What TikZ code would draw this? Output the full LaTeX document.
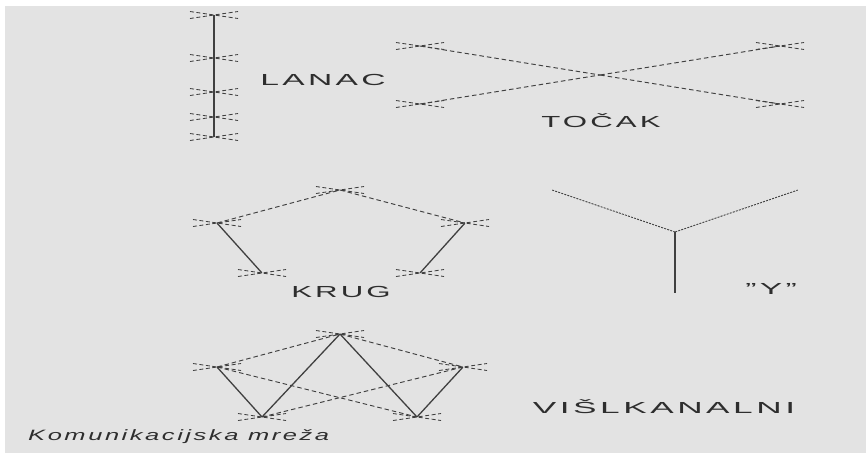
\documentclass[tikz,border=0pt]{standalone}
\usepackage{fontspec}
\setmainfont{Liberation Sans}
\definecolor{bg}{HTML}{E3E3E3}
\definecolor{lc}{HTML}{404040}
\definecolor{tc}{HTML}{2E2E2E}
\newcommand\nodemark[1]{%
  \draw[mk] ([shift={(-24,-3.5)}]#1.center) -- ([shift={(24,3.5)}]#1.center);
  \draw[mk] ([shift={(-24,3.5)}]#1.center) -- ([shift={(24,-3.5)}]#1.center);}
\newcommand\widetext[3]{\scalebox{#1}[1]{\addfontfeature{LetterSpace=#2}#3}}
\begin{document}
\begin{tikzpicture}[x=1pt,y=-1pt,
  dsh/.style={draw=lc, line width=0.95pt, dash pattern=on 4.5pt off 3pt},
  dotted arm/.style={draw=lc, line width=0.9pt, dash pattern=on 2pt off 1.2pt},
  sol/.style={draw=lc, line width=1.3pt},
  nd/.style={inner sep=0pt, minimum size=0pt},
  mk/.style={draw=lc, line width=0.85pt, dash pattern=on 4pt off 2.5pt},
  lbl/.style={text=tc, font=\fontsize{16}{16}\selectfont, inner sep=0pt}]
\useasboundingbox (0,0) rectangle (866,453);
\fill[white] (0,0) rectangle (866,453);
\fill[bg] (5,6) rectangle (866,453);

% LANAC
\node[nd] (l1) at (214,15) {};
\node[nd] (l2) at (214,58) {};
\node[nd] (l3) at (214,92) {};
\node[nd] (l4) at (214,117) {};
\node[nd] (l5) at (214,137) {};
\draw[sol] (l1) -- (l2) -- (l3) -- (l4) -- (l5);
\foreach \n in {l1,l2,l3,l4,l5} {\nodemark{\n}}
\node[lbl] (tl) at (323,80) {\widetext{2.1}{10}{LANAC}};

% TOCAK
\node[nd] (t1) at (420,46) {};
\node[nd] (t2) at (780,46) {};
\node[nd] (t3) at (420,104) {};
\node[nd] (t4) at (780,104) {};
\node[nd] (t0) at (600,75) {};
\draw[dsh] (t1) -- (t0) -- (t4);
\draw[dsh] (t3) -- (t0) -- (t2);
\foreach \n in {t1,t2,t3,t4} {\nodemark{\n}}
\node[lbl] (tt) at (601,121) {\widetext{1.95}{10}{TOČAK}};

% KRUG
\node[nd] (k1) at (340,190) {};
\node[nd] (k2) at (217,223) {};
\node[nd] (k3) at (465,223) {};
\node[nd] (k4) at (262,273) {};
\node[nd] (k5) at (420,273) {};
\draw[dsh] (k2) -- (k1) -- (k3);
\draw[sol] (k2) -- (k4);
\draw[sol] (k3) -- (k5);
\foreach \n in {k1,k2,k3,k4,k5} {\nodemark{\n}}
\node[lbl] (tk) at (341,292) {\widetext{1.95}{10}{KRUG}};

% Y
\node[nd] (y1) at (552,190) {};
\node[nd] (y2) at (798,190) {};
\node[nd] (y0) at (675,232) {};
\node[nd] (y3) at (675,293) {};
\draw[dotted arm] (y1) -- (y0) -- (y2);
\draw[sol] (y0) -- (y3);
\node[lbl] (ty) at (771,289) {\widetext{2.1}{10}{"Y"}};

% VISEKANALNI
\node[nd] (v1) at (340,334) {};
\node[nd] (v2) at (217,367) {};
\node[nd] (v3) at (463,367) {};
\node[nd] (v4) at (262,417) {};
\node[nd] (v5) at (417,417) {};
\draw[sol] (v2) -- (v4) -- (v1) -- (v5) -- (v3);
\draw[dsh] (v2) -- (v1) -- (v3);
\draw[dsh] (v2) -- (v5);
\draw[dsh] (v3) -- (v4);
\foreach \n in {v1,v2,v3,v4,v5} {\nodemark{\n}}
\node[lbl] (tv) at (664,407) {\widetext{2.2}{10}{VIŠLKANALNI}};

% caption
\node[lbl, anchor=west] (cap) at (28,437) {\widetext{1.7}{10}{\fontsize{15}{15}\selectfont\itshape Komunikacijska mreža}};
\end{tikzpicture}
\end{document}
